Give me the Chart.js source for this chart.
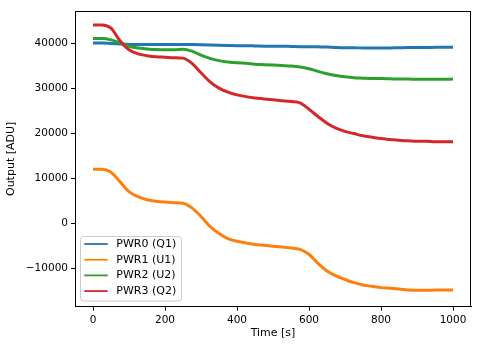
<!DOCTYPE html>
<html>
<head>
<meta charset="utf-8">
<script src="https://cdn.jsdelivr.net/npm/chart.js@4.4.1/dist/chart.umd.min.js"></script>
<style>
  html, body { margin: 0; padding: 0; background: #fff; }
  #wrap { width: 482px; height: 347px; }
</style>
</head>
<body>
<div id="wrap"><canvas id="myChart" width="482" height="347"></canvas></div>
<script>
// sample times [s]
var times = [0, 25, 50, 75, 100, 125, 150, 175, 200, 225, 250, 275, 300, 325, 350, 375, 400,
  425, 450, 475, 500, 525, 550, 575, 600, 625, 650, 675, 700, 725, 750, 775, 800, 825, 850,
  875, 900, 925, 950, 975, 1000];

var seriesNames = ['PWR0 (Q1)', 'PWR1 (U1)', 'PWR2 (U2)', 'PWR3 (Q2)'];
var seriesColors = ['#1f77b4', '#ff7f0e', '#2ca02c', '#d62728'];

var pwr0 = [40000, 40000, 39900, 39800, 39700, 39700, 39700, 39700, 39700, 39700, 39700, 39650,
  39600, 39550, 39500, 39450, 39400, 39400, 39350, 39300, 39300, 39300, 39250, 39200, 39200,
  39150, 39100, 39000, 38950, 38950, 38900, 38900, 38900, 38900, 38950, 39000, 39000, 39000,
  39050, 39050, 39050];
var pwr1 = [12000, 12000, 11300, 9200, 7000, 5900, 5200, 4900, 4700, 4550, 4450, 3400, 1500,
  -700, -2300, -3400, -4000, -4400, -4700, -4900, -5100, -5300, -5500, -5800, -6900, -8900,
  -10600, -11700, -12500, -13200, -13700, -14000, -14300, -14450, -14600, -14800, -14900,
  -14900, -14850, -14800, -14800];
var pwr2 = [41000, 41000, 40700, 40000, 39300, 38900, 38700, 38550, 38500, 38500, 38600, 38200,
  37300, 36600, 36100, 35800, 35600, 35500, 35300, 35200, 35100, 35000, 34900, 34700, 34300,
  33700, 33200, 32800, 32500, 32300, 32200, 32100, 32100, 32050, 32000, 32000, 31950, 31950,
  31950, 31950, 32000];
var pwr3 = [44000, 44000, 43300, 40500, 38500, 37600, 37200, 36950, 36850, 36750, 36650, 35500,
  33400, 31400, 30000, 29100, 28500, 28100, 27800, 27600, 27400, 27200, 27000, 26700, 25300,
  23700, 22200, 21100, 20400, 19900, 19400, 19100, 18800, 18600, 18400, 18300, 18200, 18200,
  18100, 18100, 18100];

var xTicks = [0, 200, 400, 600, 800, 1000];
var yTicks = [-10000, 0, 10000, 20000, 30000, 40000];

var allSeries = [pwr0, pwr1, pwr2, pwr3];

var FONT = 'DejaVu Sans';
Chart.defaults.font.family = FONT;
Chart.defaults.font.size = 10.5;
Chart.defaults.color = '#000';

function pts(vals) {
  return times.map(function (t, i) { return { x: t, y: vals[i] }; });
}

function fmt(v) {
  return v < 0 ? '\u2212' + Math.abs(v) : String(v);
}

var datasets = allSeries.map(function (vals, i) {
  return {
    label: seriesNames[i],
    data: pts(vals),
    borderColor: seriesColors[i],
    backgroundColor: seriesColors[i],
    borderWidth: 3,
    pointRadius: 0,
    fill: false,
    cubicInterpolationMode: 'monotone',
    order: allSeries.length - i
  };
});

// box around the plot + matplotlib style legend in lower left
var framePlugin = {
  id: 'frame',
  afterDatasetsDraw: function (chart) {
    var c = chart.ctx, a = chart.chartArea;
    c.save();
    c.strokeStyle = '#000';
    c.lineWidth = 1;
    c.strokeRect(Math.round(a.left) + 0.5, Math.round(a.top) + 0.5,
      Math.round(a.right - a.left) - 1, Math.round(a.bottom - a.top) - 1);

    // legend
    var bx = a.left + 5.5, by = 236.5, bw = 101, bh = 64.5, r = 3;
    c.beginPath();
    c.moveTo(bx + r, by);
    c.arcTo(bx + bw, by, bx + bw, by + bh, r);
    c.arcTo(bx + bw, by + bh, bx, by + bh, r);
    c.arcTo(bx, by + bh, bx, by, r);
    c.arcTo(bx, by, bx + bw, by, r);
    c.closePath();
    c.fillStyle = 'rgba(255,255,255,0.8)';
    c.fill();
    c.strokeStyle = '#cccccc';
    c.stroke();

    c.font = '11px "' + FONT + '"';
    c.textBaseline = 'middle';
    c.textAlign = 'left';
    for (var i = 0; i < seriesNames.length; i++) {
      var yy = 244 + i * 15.7;
      c.strokeStyle = seriesColors[i];
      c.lineWidth = 1.8;
      c.beginPath();
      c.moveTo(a.left + 9.3, yy);
      c.lineTo(a.left + 32.7, yy);
      c.stroke();
      c.fillStyle = '#000';
      c.fillText(seriesNames[i], a.left + 41.3, yy);
    }
    c.restore();
  }
};

var ctx = document.getElementById('myChart').getContext('2d');
var chart = new Chart(ctx, {
  type: 'line',
  data: { datasets: datasets },
  options: {
    responsive: false,
    animation: false,
    layout: { padding: { left: 0, top: 11, right: 11, bottom: 0 } },
    plugins: { legend: { display: false }, tooltip: { enabled: false } },
    scales: {
      x: {
        type: 'linear',
        min: -50,
        max: 1050,
        afterBuildTicks: function (axis) { axis.ticks = xTicks.map(function (v) { return { value: v }; }); },
        afterFit: function (axis) { axis.height = 40.3; },
        grid: { display: true, drawOnChartArea: false, drawTicks: true, tickLength: 4, color: '#000' },
        border: { display: true, color: '#000' },
        ticks: { padding: 3, maxRotation: 0, color: '#000', callback: fmt },
        title: { display: true, text: 'Time [s]', color: '#000', font: { size: 11 }, padding: { top: 2, bottom: 7 } }
      },
      y: {
        type: 'linear',
        min: -18533,
        max: 47111,
        afterBuildTicks: function (axis) { axis.ticks = yTicks.map(function (v) { return { value: v }; }); },
        afterFit: function (axis) { axis.width = 75; },
        grid: { display: true, drawOnChartArea: false, drawTicks: true, tickLength: 4, color: '#000' },
        border: { display: true, color: '#000' },
        ticks: { padding: 3, color: '#000', callback: fmt },
        title: { display: true, text: 'Output [ADU]', color: '#000', font: { size: 11 }, padding: { top: 5, bottom: 2 } }
      }
    }
  },
  plugins: [framePlugin]
});
</script>
</body>
</html>
